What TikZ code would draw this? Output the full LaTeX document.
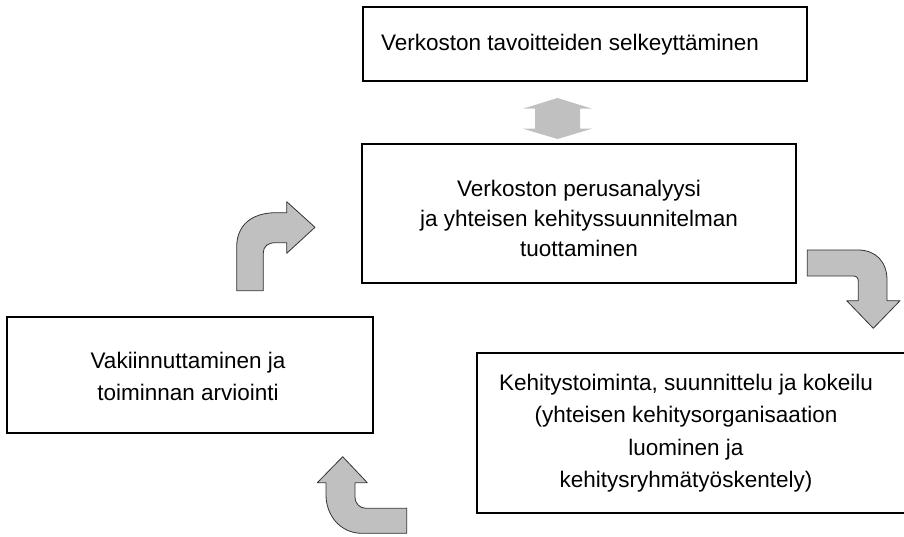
\documentclass[tikz,border=0pt]{standalone}
\usepackage{fontspec}
\setmainfont{Liberation Sans}
\begin{document}
\begin{tikzpicture}[x=1pt,y=-1pt,
  box/.style={draw=black,line width=2pt,fill=white,inner sep=0pt},
  txt/.style={align=center,inner sep=0pt,font=\fontsize{22.5}{31}\selectfont},
  bigarrow/.style={fill=arrowgray,draw=black!80,line width=0.8pt,line join=round}]
\definecolor{arrowgray}{HTML}{C0C0C0}
\useasboundingbox (0,0) rectangle (904,537);
% boxes
\node[box,minimum width=444pt,minimum height=74pt] (b1) at (585,44) {};
\node[box,minimum width=434pt,minimum height=139pt] (b2) at (579,213.5) {};
\node[box,minimum width=366pt,minimum height=116pt] (b3) at (190,375) {};
\node[box,minimum width=429pt,minimum height=160pt] (b4) at (691.5,433) {};
% texts
\node[txt] (t1) at (570,45) {Verkoston tavoitteiden selkeyttäminen};
\node[txt,font=\fontsize{22.5}{30}\selectfont] (t2) at (579,218) {Verkoston perusanalyysi\\ja yhteisen kehityssuunnitelman\\tuottaminen};
\node[txt,font=\fontsize{22.5}{32}\selectfont] (t3) at (188,376) {Vakiinnuttaminen ja\\toiminnan arviointi};
\node[txt,font=\fontsize{22.5}{32.5}\selectfont] (t4) at (686,433) {Kehitystoiminta, suunnittelu ja kokeilu\\(yhteisen kehitysorganisaation\\luominen ja\\kehitysryhmätyöskentely)};
% double arrow
\fill[arrowgray] (557.5,98) -- (592,108.7) -- (580,108.7) -- (580,128.7) -- (592,128.7) -- (557.5,139)
  -- (523,128.7) -- (535,128.7) -- (535,108.7) -- (523,108.7) -- cycle;
% arrow A (up then right)
\draw[bigarrow] (236.7,290.7) -- (236.7,246.7) .. controls (236.7,225) and (252,212.7) .. (276,212.7)
  -- (286.7,212.7) -- (286.7,201.7) -- (315,227.3) -- (286.7,253.3) -- (286.7,242.7)
  -- (276,242.7) .. controls (268,242.7) and (263.3,246) .. (263.3,253) -- (263.3,290.7) -- cycle;
% arrow B (right then down)
\draw[bigarrow] (807.3,250) -- (858,250) .. controls (876,250) and (887,262) .. (887,280)
  -- (887,300.7) -- (900,300.7) -- (873.3,328.3) -- (846.7,300.7) -- (858.3,300.7)
  -- (858.3,282) .. controls (858.3,278) and (857,276) .. (853,276) -- (807.3,276) -- cycle;
% arrow C (left then up)
\draw[bigarrow] (342.7,456.7) -- (367.3,482.7) -- (355,482.7) -- (355,496.7)
  .. controls (355,504) and (360,508.3) .. (366,508.3) -- (406.7,508.3) -- (406.7,533.3)
  -- (362,533.3) .. controls (340,533.3) and (326,515) .. (326,495) -- (326,482.7)
  -- (317.3,482.7) -- cycle;
\end{tikzpicture}
\end{document}
